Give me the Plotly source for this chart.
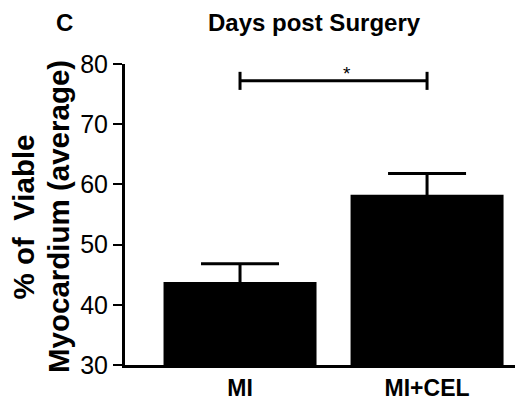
import plotly.graph_objects as go

categories = ["MI", "MI+CEL"]
means = [43.8, 58.3]
sem = [3.0, 3.5]
y_ticks = [30, 40, 50, 60, 70, 80]
sig_level = 77.2
sig_label = "*"
y_title_lines = ["% of  Viable", "Myocardium (average)"]

FONT = "Liberation Sans, Arial, sans-serif"

# page body has an 8px default margin; lay the figure out in reference pixels
OFF = 8
PL, PR, PT, PB = 125, 523, 64, 365  # plot-area edges in the 523x400 window


def px(X):
    return (X - PL) / (PR - PL)


def py(Y):
    return (PB - Y) / (PB - PT)


fig = go.Figure()
fig.add_trace(go.Bar(
    x=[0, 1], y=means, width=0.818,
    marker=dict(color="black", line=dict(width=0)),
    error_y=dict(type="data", array=sem, symmetric=True,
                 color="black", thickness=3, width=39),
))

# significance bracket
fig.add_shape(type="line", xref="x", yref="y", x0=0, x1=1, y0=sig_level, y1=sig_level,
              line=dict(color="black", width=3))
for xi in (0, 1):
    fig.add_shape(type="line", xref="x", yref="y", x0=xi, x1=xi,
                  y0=sig_level - 1.5, y1=sig_level + 1.5, line=dict(color="black", width=3))
fig.add_annotation(x=0.57, y=sig_level, xref="x", yref="y", text=sig_label, showarrow=False,
                   yanchor="bottom", yshift=-5, font=dict(family=FONT, size=19, color="black"))

# title and panel letter (box top at the top edge of the figure)
fig.add_annotation(x=px(314), y=py(OFF), xref="paper", yref="paper", text="<b>Days post Surgery</b>",
                   showarrow=False, xanchor="center", yanchor="top", borderpad=0,
                   font=dict(family=FONT, size=24, color="black"))
fig.add_annotation(x=px(64), y=py(OFF), xref="paper", yref="paper", text="<b>C</b>",
                   showarrow=False, xanchor="center", yanchor="top", borderpad=0,
                   font=dict(family=FONT, size=24, color="black"))
# y-axis title (two rotated lines)
for X, line in zip((22.5, 58), y_title_lines):
    fig.add_annotation(x=px(X), y=py(217), xref="paper", yref="paper",
                       text="<b>%s</b>" % line, textangle=-90,
                       showarrow=False, xanchor="center", yanchor="middle", borderpad=0,
                       font=dict(family=FONT, size=29.5, color="black"))

fig.update_layout(
    width=523 - OFF, height=400 - OFF,
    margin=dict(l=PL - OFF, r=523 - PR, t=PT - OFF, b=400 - PB),
    paper_bgcolor="white", plot_bgcolor="white",
    showlegend=False,
    xaxis=dict(range=[-0.615, 1.513], tickmode="array", tickvals=[0, 1],
               ticktext=["<b>%s</b>" % c for c in categories],
               showline=True, linecolor="black", linewidth=3, ticks="",
               showgrid=False, zeroline=False,
               tickfont=dict(family=FONT, size=23, color="black")),
    yaxis=dict(range=[30, 80], tickmode="array", tickvals=y_ticks,
               showline=True, linecolor="black", linewidth=3,
               ticks="outside", ticklen=9, tickwidth=2, tickcolor="black",
               showgrid=False, zeroline=False,
               tickfont=dict(family=FONT, size=25, color="black")),
)

fig.write_html("out.html")
